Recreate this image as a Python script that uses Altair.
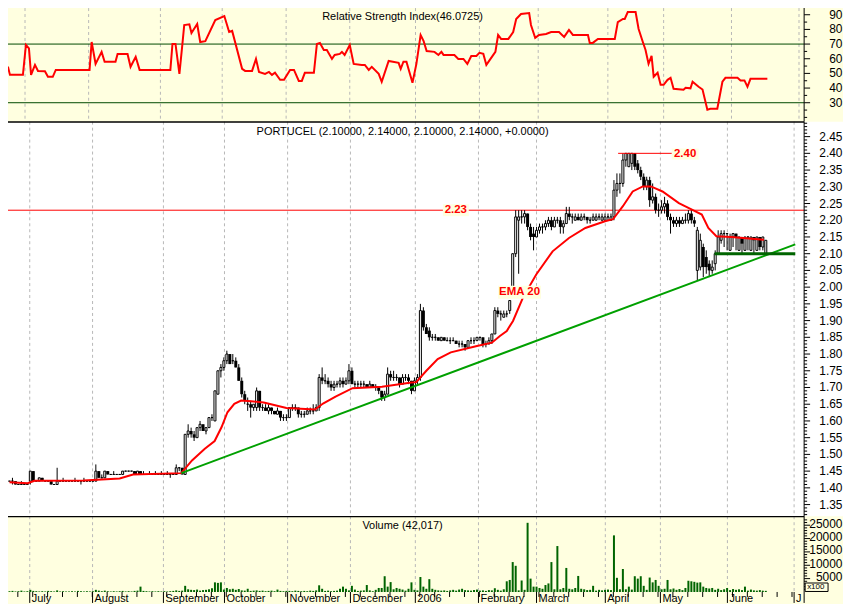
import altair as alt
import pandas as pd

# ================= data =================
# daily candles, prices in cents (trading-day index = list position)
opens = [142,142,142,141,141,141,141,142,145,142, 142,143,142,142,142,141,141,142,142,142,
         142,142,142,142,142,142,142,142,142,142, 145,143,143,145,144,144,144,144,144,145,
         145,145,145,144,145,144,144,144,144,144, 144,144,144,144,144,144,144,146,146,144,
         156,157,156,155,158,159,157,158,161,160, 168,175,176,178,180,178,178,176,172,168,
         165,165,164,164,169,164,164,163,164,163, 162,163,161,161,161,164,164,164,162,162,
         162,163,163,163,164,173,172,172,171,170, 171,171,172,171,172,175,171,171,171,171,
         171,170,171,170,170,169,167,168,174,173, 173,173,171,173,173,172,169,172,173,193,
         188,187,185,185,185,184,185,184,184,184, 184,183,183,183,182,184,184,184,185,185,
         183,183,184,186,193,192,191,192,193,198, 210,220,221,221,222,218,216,215,217,218,
         218,219,220,218,220,220,218,219,222,221, 220,221,220,221,221,220,220,220,221,220,
         220,221,220,221,229,231,231,238,236,237, 240,237,235,233,230,232,226,227,223,223,
         224,225,221,220,219,220,219,220,220,222, 220,205,206,212,209,207,205,207,210,214,
         216,216,211,215,216,211,215,211,215,211, 215,211,215,212,210]
highs = [142,143,142,141,142,141,141,145,145,142, 143,143,142,142,142,141,146,142,143,142,
         142,142,143,142,142,143,142,142,142,147, 145,144,145,145,144,145,144,144,145,145,
         145,145,145,145,145,145,144,145,144,145, 144,145,144,145,144,144,147,146,146,156,
         159,158,157,158,160,159,158,161,162,169, 175,177,179,181,180,180,179,177,173,169,
         167,166,165,170,169,165,165,165,164,163, 164,163,162,162,164,165,165,164,163,163,
         164,164,165,165,174,176,174,173,172,172, 172,173,173,173,177,176,172,172,172,172,
         171,172,171,171,170,169,169,176,175,175, 174,173,174,174,174,172,173,174,195,194,
         189,188,186,186,185,185,185,185,185,185, 184,184,184,183,184,185,185,185,185,185,
         184,185,186,194,194,193,193,193,196,210, 223,223,223,223,222,219,218,218,219,219,
         220,221,221,221,221,221,220,224,224,222, 222,222,222,222,221,221,222,222,222,222,
         222,222,222,232,234,234,240,240,240,240, 240,238,236,234,233,233,231,228,225,226,
         227,226,222,221,221,221,221,222,223,223, 221,218,216,213,211,208,208,211,217,217,
         217,216,216,216,216,215,215,215,215,215, 215,215,215,215,214]
lows = [142,141,141,141,141,141,141,141,142,142, 142,142,142,142,141,141,141,142,142,142,
        142,142,142,142,141,142,142,142,142,142, 143,143,143,144,144,144,144,144,144,145,
        145,145,144,144,144,144,144,144,144,144, 144,144,144,144,143,144,144,145,144,144,
        155,155,154,155,157,157,156,158,160,160, 168,173,175,177,177,177,176,172,167,165,
        163,161,163,163,163,163,163,162,162,162, 162,160,160,160,161,163,163,161,161,161,
        162,162,162,163,163,171,171,170,169,169, 170,170,170,171,171,171,170,170,170,170,
        170,170,170,169,168,166,166,168,172,172, 172,170,171,172,171,168,169,171,172,187,
        186,184,184,184,184,184,184,184,183,184, 183,182,182,181,182,183,183,184,184,182,
        182,183,183,186,191,190,191,191,192,197, 209,204,219,219,217,214,211,215,216,216,
        217,218,217,218,219,216,216,219,220,219, 220,220,220,220,219,219,220,220,220,220,
        220,220,220,220,227,228,230,236,236,235, 235,234,232,229,229,224,225,222,221,222,
        222,220,216,218,218,218,219,219,219,219, 218,202,205,203,204,203,204,205,210,213,
        212,211,211,212,211,211,210,211,211,211, 210,211,211,211,210]
closes = [142,142,141,141,141,141,141,145,142,142, 143,142,142,142,141,141,142,142,142,142,
          142,142,142,142,142,142,142,142,142,145, 143,143,145,144,144,144,144,144,145,145,
          145,145,144,145,144,144,144,144,144,144, 144,144,144,144,144,144,146,146,144,156,
          157,156,155,158,159,157,158,161,161,169, 175,176,178,180,177,178,176,172,168,166,
          165,164,165,169,164,164,163,164,163,162, 163,161,161,161,164,164,164,162,162,162,
          163,163,163,164,173,172,172,171,170,171, 171,172,171,172,175,171,171,171,171,171,
          170,171,170,170,169,167,168,174,173,173, 173,171,173,173,172,169,172,173,193,188,
          186,185,185,185,184,185,184,184,184,184, 183,183,183,182,184,184,184,185,185,183,
          183,184,186,193,192,192,192,192,196,210, 221,221,221,222,218,215,215,217,218,218,
          219,220,218,220,220,218,219,222,221,221, 221,220,221,221,220,220,221,221,221,221,
          221,221,221,229,231,231,238,240,240,240, 236,235,233,230,232,226,227,223,223,224,
          225,221,220,219,220,219,220,220,222,220, 219,217,214,206,206,205,206,210,215,216,
          216,216,215,216,215,215,213,215,215,215, 214,215,212,215,214]
# volume, in units of 100 shares
volumes = [300,400,200,300,500,200,300,800,400,300, 200,300,200,400,300,200,600,200,300,200,
           200,300,200,400,300,200,300,200,300,800, 500,300,500,300,200,300,200,300,400,200,
           300,200,400,500,2000,400,300,200,300,200, 300,200,300,200,300,400,600,400,500,2300,
           1000,800,700,900,500,700,800,1000,1400,3600, 3400,3600,900,1500,1000,1200,800,1100,600,500,
           1200,400,500,600,400,500,300,400,500,300, 900,400,300,400,400,300,500,400,300,400,
           300,500,400,600,2500,1200,400,500,300,400, 500,1200,2000,1200,600,2300,900,400,500,600,
           2600,600,300,800,1500,1500,5900,2000,3700,1000, 1500,1200,900,500,1200,3600,800,600,5600,2000,
           1200,4800,1200,800,600,500,600,400,600,800, 500,900,1200,700,600,500,700,900,500,600,
           400,700,600,1400,800,500,1000,4000,4500,11200, 9800,600,4300,800,25900,5000,2000,2000,1500,1200,
           2600,3200,11200,1000,17200,1000,1500,9000,1200,1000, 1500,6000,1200,1000,700,800,2300,500,800,600,
           800,900,700,21200,5300,1000,8600,1000,2000,900, 5900,5000,5900,2300,800,5400,3600,4500,2300,1000,
           1200,4500,1000,1300,800,1100,700,1500,4200,4000, 3800,3500,3600,2000,1500,1300,1500,800,1200,700,
           1000,1500,700,1100,800,1000,700,2000,500,900, 600,500,700,500,420]
# EMA 20 vertices (trading day, price)
ema_points = [(0, 1.417), (6.1, 1.414), (8.4, 1.421), (24.9, 1.422), (32.5, 1.426), (37, 1.428),
              (41.5, 1.440), (57.7, 1.444), (61.3, 1.482), (65.6, 1.517), (68.9, 1.540), (71.2, 1.581),
              (73.2, 1.626), (75.5, 1.651), (77.8, 1.661), (81.1, 1.659), (85.4, 1.655), (93.0, 1.639),
              (102.6, 1.634), (105.3, 1.652), (109.5, 1.673), (115.2, 1.698), (125.1, 1.702),
              (135.0, 1.715), (136.6, 1.716), (140.0, 1.750), (143.8, 1.785), (148.2, 1.805),
              (157.0, 1.824), (162.0, 1.834), (164.7, 1.854), (167.0, 1.869), (169.1, 1.899),
              (172.4, 1.968), (176.9, 2.038), (182.4, 2.107), (187.9, 2.147), (193.4, 2.177),
              (200.0, 2.197), (202.7, 2.203), (206.0, 2.242), (209.3, 2.286), (212.7, 2.301),
              (215.4, 2.301), (219.3, 2.286), (224.8, 2.251), (229.2, 2.232), (232.5, 2.217),
              (234.7, 2.177), (237.4, 2.152), (242.4, 2.150), (253.4, 2.142)]
# RSI vertices (trading day, value)
rsi_points = [(0, 54.0), (1.2, 54.0), (1.8, 49.0), (6.1, 49.0), (7.1, 69.4), (8.1, 67.0), (8.8, 49.0),
              (10.1, 55.8), (11.1, 51.7), (13.4, 51.5), (14.4, 47.7), (16.0, 47.7), (17.0, 52.4),
              (28.2, 52.4), (28.9, 71.4), (30.2, 56.5), (32.2, 64.7), (33.2, 57.9), (36.8, 57.9),
              (37.5, 63.3), (40.8, 63.3), (41.8, 54.5), (43.5, 61.3), (44.8, 52.4), (55.0, 52.4),
              (55.7, 70.1), (56.7, 70.1), (58.0, 49.7), (59.0, 70.1), (59.6, 83.0), (61.3, 83.5),
              (62.0, 77.6), (63.9, 83.7), (64.9, 71.4), (66.6, 72.0), (69.9, 86.4), (72.9, 89.1),
              (74.5, 78.2), (75.5, 79.0), (78.8, 53.1), (79.8, 51.7), (82.1, 51.7), (83.4, 59.9),
              (84.4, 51.0), (86.4, 49.7), (87.7, 51.0), (88.7, 49.0), (89.7, 50.5), (91.4, 45.6),
              (92.7, 45.6), (94.7, 52.4), (96.0, 52.4), (97.6, 44.9), (98.6, 44.9), (99.6, 50.4),
              (102.6, 50.4), (103.6, 70.1), (104.6, 70.8), (105.9, 66.0), (106.9, 66.0), (108.6, 59.9),
              (109.5, 62.6), (111.2, 63.3), (111.9, 64.7), (112.8, 62.6), (114.5, 69.4), (115.8, 56.5),
              (118.5, 55.8), (119.5, 55.8), (120.8, 52.4), (121.8, 54.5), (124.1, 49.7), (125.1, 44.3),
              (127.4, 58.5), (130.7, 57.2), (131.4, 53.1), (132.3, 58.0), (133.3, 57.9), (135.3, 43.6),
              (136.6, 56.5), (138.0, 76.2), (139.0, 72.0), (140.0, 65.3), (142.6, 64.7), (143.9, 62.6),
              (144.9, 64.7), (145.6, 62.6), (149.2, 62.6), (150.5, 59.9), (152.2, 59.9), (153.5, 56.5),
              (154.8, 61.9), (156.5, 61.9), (157.5, 64.0), (158.8, 63.3), (159.8, 55.8), (162.1, 62.6),
              (162.8, 64.7), (163.7, 76.2), (164.7, 73.5), (167.1, 73.5), (168.7, 78.2), (169.7, 87.1),
              (171.3, 90.5), (174.0, 91.2), (174.6, 83.0), (176.0, 74.2), (177.3, 76.2), (179.6, 76.9),
              (181.3, 78.2), (183.9, 78.2), (185.6, 74.9), (187.2, 79.6), (188.5, 76.2), (193.5, 76.2),
              (194.1, 70.8), (195.1, 70.8), (196.8, 73.5), (202.4, 73.5), (203.4, 85.0), (205.1, 87.1),
              (205.7, 87.1), (206.7, 91.8), (209.3, 91.8), (210.3, 80.3), (211.7, 71.4), (212.6, 66.0),
              (213.6, 56.5), (214.6, 61.9), (215.3, 47.7), (216.6, 50.4), (217.6, 42.2), (218.6, 42.2),
              (219.9, 45.6), (220.9, 47.0), (221.9, 39.5), (225.2, 38.8), (225.9, 40.2), (227.5, 39.8),
              (228.2, 44.3), (230.2, 40.9), (231.5, 39.0), (233.1, 25.2), (234.1, 25.9), (236.4, 25.9),
              (238.1, 44.3), (239.1, 47.0), (243.1, 47.0), (244.1, 45.2), (245.4, 45.2), (246.4, 40.9),
              (247.4, 46.3), (253.0, 46.3)]
month_names = ["July", "August", "September", "October", "November", "December", "2006",
               "February", "March", "April", "May", "June", "J"]
month_starts = [6.8, 27.9, 51.7, 72.2, 93.4, 114.5, 136.3, 157.5, 177.0, 200.1, 218.6, 241.1, 263.5]
trend_days = [57.7, 263.9]
trend_prices = [1.444, 2.128]
support_days = [236.8, 263.9]
support_prices = [2.10, 2.10]
peak_days = [204.4, 222.6]
peak_prices = [2.40, 2.40]
resistance_prices = [2.23]
rsi_levels = [30, 70]
note_texts = ["2.23", "2.40", "EMA 20"]
note_days = [149.9, 226.9, 171.3]
note_prices = [2.23, 2.398, 1.985]
rsi_ticks = [30, 40, 50, 60, 70, 80, 90]
rsi_minor = [20, 25, 35, 45, 55, 65, 75, 85, 95]
price_ticks = [1.35, 1.40, 1.45, 1.50, 1.55, 1.60, 1.65, 1.70, 1.75, 1.80, 1.85, 1.90,
               1.95, 2.00, 2.05, 2.10, 2.15, 2.20, 2.25, 2.30, 2.35, 2.40, 2.45]
volume_ticks = [5000, 10000, 15000, 20000, 25000]
rsi_title = "Relative Strength Index(46.0725)"
price_title = "PORTUCEL (2.10000, 2.14000, 2.10000, 2.14000, +0.0000)"
volume_title = "Volume (42,017)"
volume_unit = "x100"

# ================= layout / style =================
W = 804
H_RSI = 120
H_PRICE = 396
H_VOL = 76
H_AXIS = 12
FULL_W = 843
YELLOW = "#FFFFE0"
GRID = "#B8B8B8"
FONT = "Liberation Sans"
LABEL_X = W + 38.5
note_box_w = [26, 27, 43]
note_box_h = [12, 11, 13]

n = min(len(opens), len(highs), len(lows), len(closes), len(volumes))
candles = pd.DataFrame({
    "day": list(range(n)),
    "open": [v / 100 for v in opens[:n]],
    "high": [v / 100 for v in highs[:n]],
    "low": [v / 100 for v in lows[:n]],
    "close": [v / 100 for v in closes[:n]],
    "vol": volumes[:n],
})
ema_df = pd.DataFrame(ema_points, columns=["day", "ema"])
rsi_df = pd.DataFrame(rsi_points, columns=["day", "rsi"])
months_df = pd.DataFrame({"day": month_starts, "name": month_names})
weeks_df = pd.DataFrame({"day": [2.8 + 5 * k for k in range(53)]})
one = pd.DataFrame({"a": [0]})

XS = alt.Scale(domain=[-0.5, 265.2], nice=False, zero=False)
RS = alt.Scale(domain=[17.09, 98.63], nice=False, zero=False)
PS = alt.Scale(domain=[1.3151, 2.4947], nice=False, zero=False)
VS = alt.Scale(domain=[0, 28360], nice=False, zero=False)


def X(f):
    return alt.X(f"{f}:Q", scale=XS, axis=None)


def right_axis(values, scale, labels, minor, height, extra=0.0, label_dy=0):
    """Right-hand value axis: domain line, major ticks, labels, minor ticks."""
    dom = alt.Chart(one).mark_rule(color="black", strokeWidth=1).encode(
        x=alt.value(W), y=alt.value(0), y2=alt.value(height + extra))
    major_df = pd.DataFrame({"v": values, "lab": labels})
    major = alt.Chart(major_df).mark_rule(color="black", strokeWidth=1).encode(
        x=alt.value(W), x2=alt.value(W + 6), y=alt.Y("v:Q", scale=scale, axis=None))
    text = alt.Chart(major_df).mark_text(
        font=FONT, fontSize=12, color="black", align="right", baseline="middle", dy=label_dy).encode(
        x=alt.value(LABEL_X), y=alt.Y("v:Q", scale=scale, axis=None), text="lab:N")
    mn = alt.Chart(pd.DataFrame({"v": minor})).mark_rule(color="black", strokeWidth=1).encode(
        x=alt.value(W), x2=alt.value(W + 3), y=alt.Y("v:Q", scale=scale, axis=None))
    return [dom, major, mn, text]


def title_text(t, y=10):
    return alt.Chart(pd.DataFrame({"t": [t]})).mark_text(
        font=FONT, fontSize=11, color="black", align="center", baseline="middle"
    ).encode(x=alt.value(401), y=alt.value(y), text="t:N")


def separator():
    return alt.Chart(one).mark_rect(color="black").encode(
        x=alt.value(0), x2=alt.value(W), y=alt.value(-0.3), y2=alt.value(1.0))


month_grid = alt.Chart(months_df).mark_rule(color=GRID, strokeDash=[3, 3], strokeWidth=1).encode(x=X("day"))

# ---------------- RSI panel ----------------
rsi_levels_l = alt.Chart(pd.DataFrame({"v": rsi_levels})).mark_rule(color="#004A00", strokeWidth=1).encode(
    y=alt.Y("v:Q", scale=RS, axis=None))
rsi_line = alt.Chart(rsi_df).mark_line(color="#FF0000", strokeWidth=2).encode(
    x=X("day"), y=alt.Y("rsi:Q", scale=RS, axis=None))
rsi_axis = right_axis(rsi_ticks, RS, [str(v) for v in rsi_ticks], rsi_minor, H_RSI)
rsi_panel = alt.layer(month_grid, rsi_levels_l, rsi_line, title_text(rsi_title, y=14.5), *rsi_axis).properties(
    width=W, height=H_RSI)

# ---------------- price panel ----------------
price_bg = alt.Chart(one).mark_rect(color="white").encode(
    x=alt.value(0), x2=alt.value(FULL_W), y=alt.value(0), y2=alt.value(H_PRICE))
resist = alt.Chart(pd.DataFrame({"p": resistance_prices})).mark_rule(color="#FF0000", strokeWidth=1).encode(
    y=alt.Y("p:Q", scale=PS, axis=None))
wicks = alt.Chart(candles).mark_rule(color="black", strokeWidth=1).encode(
    x=X("day"), y=alt.Y("low:Q", scale=PS, axis=None), y2="high:Q")
up = alt.Chart(candles).transform_filter("datum.close >= datum.open").mark_bar(
    width=2, fill="white", stroke="black", strokeWidth=1).encode(
    x=X("day"), y=alt.Y("open:Q", scale=PS, axis=None), y2="close:Q")
down = alt.Chart(candles).transform_filter("datum.close < datum.open").mark_bar(
    width=3, color="black").encode(
    x=X("day"), y=alt.Y("open:Q", scale=PS, axis=None), y2="close:Q")
ema_line = alt.Chart(ema_df).mark_line(color="#FF0000", strokeWidth=2).encode(
    x=X("day"), y=alt.Y("ema:Q", scale=PS, axis=None))
trend = alt.Chart(pd.DataFrame({"day": trend_days, "p": trend_prices})).mark_line(
    color="#00A000", strokeWidth=2).encode(x=X("day"), y=alt.Y("p:Q", scale=PS, axis=None))
support = alt.Chart(pd.DataFrame({"d1": [support_days[0]], "d2": [support_days[1]], "p": [support_prices[0]]})).mark_rule(
    color="#006400", strokeWidth=3).encode(x=X("d1"), x2="d2:Q", y=alt.Y("p:Q", scale=PS, axis=None))
peak = alt.Chart(pd.DataFrame({"d1": [peak_days[0]], "d2": [peak_days[1]], "p": [peak_prices[0]]})).mark_rule(
    color="#FF0000", strokeWidth=1).encode(x=X("d1"), x2="d2:Q", y=alt.Y("p:Q", scale=PS, axis=None))

note_layers = []
for t, d, p, bw, bh in zip(note_texts, note_days, note_prices, note_box_w, note_box_h):
    h = bh / bw
    path = f"M-1,{-h:.4f}L1,{-h:.4f}L1,{h:.4f}L-1,{h:.4f}Z"
    df = pd.DataFrame({"day": [d], "p": [p], "t": [t]})
    note_layers.append(alt.Chart(df).mark_point(
        shape=path, size=bw * bw, filled=True, color=YELLOW, opacity=1, strokeWidth=0).encode(
        x=X("day"), y=alt.Y("p:Q", scale=PS, axis=None)))
    note_layers.append(alt.Chart(df).mark_text(
        font=FONT, fontSize=11.5, fontWeight="bold", color="#FF0000", align="center", baseline="middle").encode(
        x=X("day"), y=alt.Y("p:Q", scale=PS, axis=None), text="t:N"))

price_minor = [round(1.32 + 0.01 * k, 2) for k in range(118) if (132 + k) % 5 != 0]
price_axis = right_axis(price_ticks, PS, [f"{v:.2f}" for v in price_ticks], price_minor, H_PRICE)
price_panel = alt.layer(price_bg, month_grid, resist, wicks, up, down, ema_line, trend, support, peak,
                        *note_layers, title_text(price_title), separator(), *price_axis).properties(
    width=W, height=H_PRICE)

# ---------------- volume panel ----------------
vol_bars = alt.Chart(candles).mark_bar(width=2, color="#006400").encode(
    x=X("day"), y=alt.Y("vol:Q", scale=VS, axis=None))
vol_minor = [1000 * k for k in range(1, 28) if k % 5 != 0]
vol_axis = right_axis(volume_ticks, VS, [str(v) for v in volume_ticks], vol_minor, H_VOL,
                      extra=H_AXIS - 1, label_dy=-1.5)
unit_box = alt.Chart(one).mark_rect(fill=YELLOW, stroke="black", strokeWidth=1).encode(
    x=alt.value(W + 1), x2=alt.value(W + 24), y=alt.value(H_VOL - 9), y2=alt.value(H_VOL - 0.5))
unit_text = alt.Chart(pd.DataFrame({"t": [volume_unit]})).mark_text(
    font=FONT, fontSize=8, color="black", align="left", baseline="middle").encode(
    x=alt.value(W + 3), y=alt.value(H_VOL - 4.5), text="t:N")
week_ticks = alt.Chart(weeks_df).mark_rule(color="black", strokeWidth=1).encode(
    x=X("day"), y=alt.value(H_VOL), y2=alt.value(H_VOL + 5))
month_ticks = alt.Chart(months_df).mark_rule(color="black", strokeWidth=1).encode(
    x=X("day"), y=alt.value(H_VOL), y2=alt.value(H_VOL + H_AXIS - 1))
month_labels = alt.Chart(months_df).mark_text(
    font=FONT, fontSize=11, color="black", align="left", baseline="alphabetic", dx=2).encode(
    x=X("day"), y=alt.value(H_VOL + 9.8), text="name:N")
vol_panel = alt.layer(month_grid, vol_bars, title_text(volume_title), separator(), *vol_axis,
                      unit_box, unit_text, week_ticks, month_ticks, month_labels).properties(
    width=W, height=H_VOL)

chart = alt.vconcat(rsi_panel, price_panel, vol_panel, spacing=0, bounds="flush").properties(
    background=YELLOW, padding={"left": -8, "top": -8, "right": 0, "bottom": -1}
).configure_view(stroke=None)

chart.save("out.html", embed_options={"renderer": "svg", "actions": False})
